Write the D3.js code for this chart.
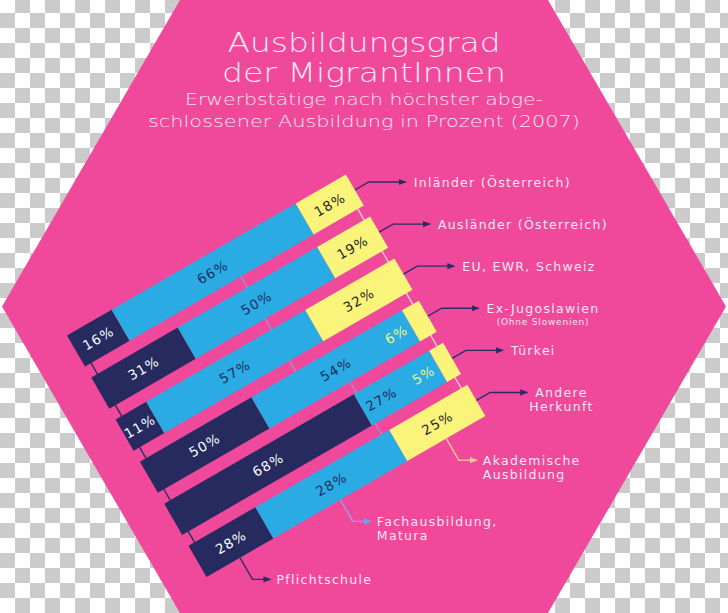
<!DOCTYPE html>
<html><head><meta charset="utf-8">
<script src="https://cdn.jsdelivr.net/npm/d3@7"></script>
<style>html,body{margin:0;padding:0;background:#fff;} svg{display:block}</style>
</head><body>
<svg id="c" width="728" height="613"></svg>
<script>
// ---------- DATA ----------
const categories = ["Inländer (Österreich)", "Ausländer (Österreich)", "EU, EWR, Schweiz", "Ex-Jugoslawien", "Türkei", "Andere Herkunft"];
const categoryLines = [["Inländer (Österreich)"], ["Ausländer (Österreich)"], ["EU, EWR, Schweiz"], ["Ex-Jugoslawien", "(Ohne Slowenien)"], ["Türkei"], ["Andere", "Herkunft"]];
const pflichtschule = [16, 31, 11, 40, 68, 24];
const fachausbildung = [66, 50, 57, 54, 27, 48];
const akademisch = [18, 19, 32, 6, 5, 28];
const pflichtLabels = ["16%", "31%", "11%", "50%", "68%", "28%"];
const fachLabels = ["66%", "50%", "57%", "54%", "27%", "28%"];
const akadLabels = ["18%", "19%", "32%", "6%", "5%", "25%"];
const seriesLines = [["Pflichtschule"], ["Fachausbildung,", "Matura"], ["Akademische", "Ausbildung"]];
const titleLines = ["Ausbildungsgrad", "der MigrantInnen"];
const subtitleLines = ["Erwerbstätige nach höchster abge-", "schlossener Ausbildung in Prozent (2007)"];

// ---------- LAYOUT / STYLE ----------
const W = 728, H = 613;
const COL = {pink: "#f0499c", navy: "#262a5f", blue: "#2aabe3", yellow: "#fbf47b", text: "#fde6f1"};
const keys = ["p", "f", "a"];
const segFill = {p: COL.navy, f: COL.blue, a: COL.yellow};
const segText = {p: "#ffffff", f: "#1d2b62", a: "#1b1b2a"};
const leaderCol = {p: "#2b2c66", f: "#8ea3e4", a: "#f8c58e"};
const connCol = {p: "#2b2c66", f: "#a08fd0", a: "#f6c6d0"};
const connU = {p: [7, 7, 7, 7, 7], f: [180, 180, 180, 222, 223], a: [315, 315, 315, 315, 315]};
const O = [67, 335.4], ANG = 30, BAR_L = 322;
const COS = Math.cos(ANG * Math.PI / 180), SIN = Math.sin(ANG * Math.PI / 180);
const toScreen = (u, n) => [O[0] + u * COS + n * SIN, O[1] - u * SIN + n * COS];

const svg = d3.select("#c");
const defs = svg.append("defs");
const pat = defs.append("pattern").attr("id", "chk").attr("width", 30).attr("height", 30)
  .attr("patternUnits", "userSpaceOnUse").attr("y", -2);
pat.append("rect").attr("width", 30).attr("height", 30).attr("fill", "#fff");
pat.append("rect").attr("x", 15).attr("width", 15).attr("height", 15).attr("fill", "#cbcbcb");
pat.append("rect").attr("y", 15).attr("width", 15).attr("height", 15).attr("fill", "#cbcbcb");
svg.append("rect").attr("width", W).attr("height", H).attr("fill", "url(#chk)");

function marker(id, col) {
  defs.append("marker").attr("id", id).attr("viewBox", "0 0 8 8").attr("refX", 7).attr("refY", 4)
    .attr("markerWidth", 8).attr("markerHeight", 8).attr("markerUnits", "userSpaceOnUse").attr("orient", "auto")
    .append("path").attr("d", "M0,0.8 L8,4 L0,7.2 Z").attr("fill", col);
}
marker("arNavy", "#2b2c66"); marker("arBlue", "#55b2ea"); marker("arYel", "#f8c58e");
const arrowOf = {p: "url(#arNavy)", f: "url(#arBlue)", a: "url(#arYel)"};

// hexagon
const hex = [[180, 0], [548, 0], [726, 306.5], [548, 613], [180, 613], [2, 306.5]];
svg.append("polygon").attr("points", hex.map(p => p.join(",")).join(" ")).attr("fill", COL.pink);

// titles
const tLen = [273, 284], sLen = [358, 432];
svg.selectAll("text.title").data(titleLines).join("text").attr("class", "title")
  .attr("x", 364).attr("y", (d, i) => 52 + i * 30).attr("text-anchor", "middle")
  .attr("font-family", "'DejaVu Sans', sans-serif").attr("font-weight", 200)
  .attr("font-size", 27).attr("fill", COL.text)
  .attr("textLength", (d, i) => tLen[i]).attr("lengthAdjust", "spacingAndGlyphs").text(d => d);
svg.selectAll("text.sub").data(subtitleLines).join("text").attr("class", "sub")
  .attr("x", 364).attr("y", (d, i) => 105 + i * 22).attr("text-anchor", "middle")
  .attr("font-family", "'DejaVu Sans', sans-serif").attr("font-weight", 200)
  .attr("font-size", 16.5).attr("fill", COL.text)
  .attr("textLength", (d, i) => sLen[i]).attr("lengthAdjust", "spacingAndGlyphs").text(d => d);

// scales
const rows = categories.map((c, i) => ({cat: c, i, p: pflichtschule[i], f: fachausbildung[i], a: akademisch[i]}));
const labelText = {p: pflichtLabels, f: fachLabels, a: akadLabels};
const series = d3.stack().keys(keys)(rows);
const x = d3.scaleLinear().domain([0, 100]).range([0, BAR_L]);
const y = d3.scaleBand().domain(categories).range([0, 279]).paddingInner(0.259).paddingOuter(0);
const bw = y.bandwidth();

const g = svg.append("g").attr("transform", `translate(${O[0]},${O[1]}) rotate(${-ANG})`);

// connectors (under bars, visible in gaps)
keys.forEach(k => {
  connU[k].forEach((u, gi) => {
    g.append("line").attr("x1", u).attr("x2", u)
      .attr("y1", y(categories[gi]) + bw - 1).attr("y2", y(categories[gi + 1]) + 1)
      .attr("stroke", connCol[k]).attr("stroke-width", 1.4);
  });
});

// bars
series.forEach(s => {
  g.selectAll(null).data(s).join("rect")
    .attr("x", d => x(d[0])).attr("width", d => x(d[1]) - x(d[0]))
    .attr("y", d => y(d.data.cat)).attr("height", bw)
    .attr("fill", segFill[s.key]);
});

// value labels
const small = d => (d[1] - d[0]) < 9;
series.forEach((s, si) => {
  g.selectAll(null).data(s).join("text")
    .attr("x", d => {
      if (small(d)) return x(d[0]) - 5;
      const nxt = series[si + 1];
      if (nxt && small(nxt[d.data.i]) && (d[1] - d[0]) < 35) return (x(d[0]) + x(d[1]) - 44) / 2;
      return x((d[0] + d[1]) / 2);
    })
    .attr("y", d => y(d.data.cat) + bw / 2)
    .attr("text-anchor", d => small(d) ? "end" : "middle")
    .attr("dominant-baseline", "central")
    .attr("font-family", "'DejaVu Sans', sans-serif").attr("font-size", 13.5).attr("letter-spacing", 1.2)
    .attr("fill", d => small(d) ? "#eef68c" : segText[s.key])
    .text(d => labelText[s.key][d.data.i]);
});

// category leaders
const labFont = "'DejaVu Sans', sans-serif";
rows.forEach((r, i) => {
  const P = toScreen(x(100), y(r.cat) + bw / 2);
  const Q = [P[0] + 16 * COS, P[1] - 16 * SIN];
  svg.append("polyline").attr("points", [P, Q, [Q[0] + 37, Q[1]]].map(p => p.join(",")).join(" "))
    .attr("fill", "none").attr("stroke", "#2b2c66").attr("stroke-width", 1.4).attr("marker-end", "url(#arNavy)");
  const lines = categoryLines[i];
  const t0 = svg.append("text").attr("x", Q[0] + 45).attr("y", Q[1] + 5)
    .attr("font-family", labFont).attr("font-size", 12.5).attr("letter-spacing", 1.3)
    .attr("fill", COL.text).text(lines[0]);
  if (lines.length > 1) {
    const w0 = t0.node().getComputedTextLength();
    const sm = i === 3;
    svg.append("text").attr("x", Q[0] + 45 + w0 / 2).attr("y", Q[1] + 5 + (sm ? 12 : 13.5))
      .attr("text-anchor", "middle").attr("font-family", labFont)
      .attr("font-size", sm ? 9 : 12.5).attr("letter-spacing", sm ? 0.8 : 1.3)
      .attr("fill", COL.text).text(lines[1]);
  }
});

// series leaders from last bar's segment centers
const last = categories[categories.length - 1];
series.forEach((s, si) => {
  const d = s[s.length - 1];
  const u = x((d[0] + d[1]) / 2);
  const B = toScreen(u, y(last) + bw);
  const C = toScreen(u, y(last) + bw + 25);
  svg.append("polyline").attr("points", [B, C, [C[0] + 18, C[1]]].map(p => p.join(",")).join(" "))
    .attr("fill", "none").attr("stroke", leaderCol[s.key]).attr("stroke-width", 1.4).attr("marker-end", arrowOf[s.key]);
  seriesLines[si].forEach((t, li) => {
    svg.append("text").attr("x", C[0] + 24).attr("y", C[1] + 5 + li * 13.5)
      .attr("font-family", labFont).attr("font-size", 12.5).attr("letter-spacing", 1.3)
      .attr("fill", COL.text).text(t);
  });
});
</script>
</body></html>
